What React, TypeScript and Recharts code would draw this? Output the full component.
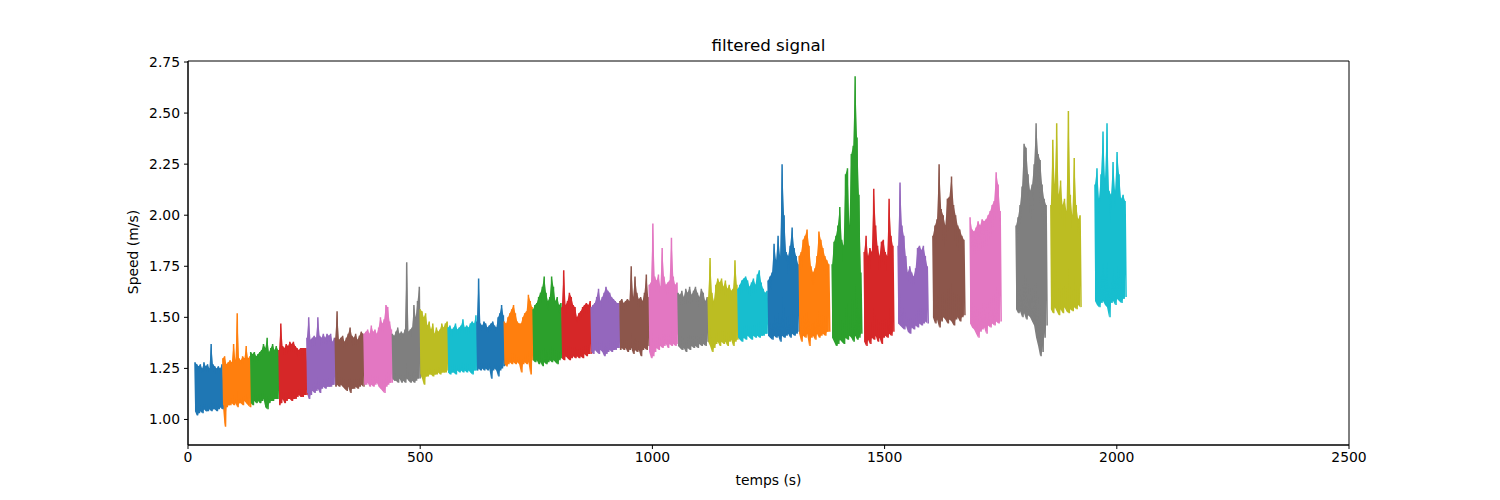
import React from 'react';
import { ComposedChart, Line, Area, XAxis, YAxis, ReferenceArea } from 'recharts';

const COLORS = ['#1f77b4', '#ff7f0e', '#2ca02c', '#d62728', '#9467bd', '#8c564b', '#e377c2', '#7f7f7f', '#bcbd22', '#17becf'];

const xTicks = [0, 500, 1000, 1500, 2000, 2500];
const yTicks = [1.0, 1.25, 1.5, 1.75, 2.0, 2.25, 2.5, 2.75];

const segStart = [15, 75, 135, 196, 256, 317, 379, 440, 500, 560, 622, 681, 743, 805, 868, 930, 993, 1055, 1120, 1184, 1249, 1316, 1387, 1456, 1529, 1604, 1684, 1783, 1858, 1953];
const segEnd = [75, 135, 196, 256, 317, 379, 440, 500, 560, 622, 681, 743, 805, 868, 930, 993, 1055, 1120, 1184, 1249, 1316, 1382, 1451, 1520, 1594, 1673, 1751, 1850, 1923, 2020];

const segHigh = [
  [1.28, 1.27, 1.26, 1.27, 1.25, 1.28, 1.26, 1.27, 1.25, 1.37, 1.27, 1.26, 1.25, 1.26, 1.25, 1.27],
  [1.30, 1.31, 1.27, 1.28, 1.29, 1.28, 1.37, 1.29, 1.52, 1.30, 1.29, 1.31, 1.30, 1.36, 1.30, 1.31],
  [1.33, 1.32, 1.33, 1.31, 1.32, 1.33, 1.34, 1.37, 1.35, 1.40, 1.33, 1.35, 1.37, 1.34, 1.36, 1.34],
  [1.34, 1.47, 1.36, 1.35, 1.37, 1.36, 1.38, 1.37, 1.38, 1.36, 1.35, 1.34, 1.35, 1.35, 1.35, 1.35],
  [1.40, 1.50, 1.39, 1.40, 1.41, 1.40, 1.50, 1.41, 1.40, 1.42, 1.40, 1.42, 1.41, 1.42, 1.38, 1.40],
  [1.40, 1.53, 1.39, 1.40, 1.41, 1.38, 1.40, 1.42, 1.45, 1.41, 1.40, 1.42, 1.39, 1.41, 1.43, 1.42],
  [1.42, 1.43, 1.44, 1.42, 1.46, 1.43, 1.44, 1.42, 1.45, 1.50, 1.47, 1.49, 1.56, 1.55, 1.48, 1.44],
  [1.42, 1.41, 1.43, 1.45, 1.42, 1.43, 1.42, 1.44, 1.77, 1.43, 1.44, 1.45, 1.56, 1.50, 1.58, 1.65],
  [1.54, 1.53, 1.50, 1.52, 1.46, 1.48, 1.44, 1.47, 1.42, 1.45, 1.43, 1.44, 1.47, 1.45, 1.47, 1.48],
  [1.45, 1.46, 1.44, 1.45, 1.47, 1.44, 1.45, 1.46, 1.49, 1.45, 1.46, 1.45, 1.47, 1.48, 1.47, 1.51],
  [1.48, 1.69, 1.47, 1.46, 1.48, 1.47, 1.45, 1.46, 1.47, 1.48, 1.46, 1.45, 1.50, 1.52, 1.56, 1.51],
  [1.48, 1.47, 1.50, 1.52, 1.54, 1.56, 1.52, 1.48, 1.47, 1.47, 1.50, 1.52, 1.53, 1.61, 1.58, 1.55],
  [1.54, 1.56, 1.57, 1.60, 1.62, 1.65, 1.70, 1.62, 1.58, 1.60, 1.70, 1.65, 1.58, 1.60, 1.56, 1.57],
  [1.55, 1.73, 1.56, 1.58, 1.62, 1.60, 1.56, 1.55, 1.50, 1.52, 1.53, 1.55, 1.56, 1.57, 1.56, 1.58],
  [1.55, 1.56, 1.57, 1.60, 1.64, 1.58, 1.60, 1.62, 1.65, 1.63, 1.62, 1.60, 1.59, 1.58, 1.57, 1.57],
  [1.58, 1.59, 1.57, 1.58, 1.59, 1.58, 1.75, 1.60, 1.70, 1.62, 1.59, 1.60, 1.58, 1.62, 1.71, 1.60],
  [1.66, 1.67, 1.96, 1.70, 1.68, 1.71, 1.65, 1.84, 1.70, 1.66, 1.67, 1.68, 1.89, 1.70, 1.66, 1.67],
  [1.62, 1.61, 1.63, 1.60, 1.64, 1.62, 1.65, 1.61, 1.63, 1.65, 1.62, 1.60, 1.64, 1.62, 1.58, 1.60],
  [1.60, 1.79, 1.62, 1.58, 1.66, 1.69, 1.67, 1.69, 1.65, 1.68, 1.64, 1.66, 1.63, 1.64, 1.78, 1.66],
  [1.64, 1.66, 1.68, 1.69, 1.70, 1.68, 1.65, 1.67, 1.69, 1.66, 1.71, 1.73, 1.67, 1.64, 1.62, 1.63],
  [1.68, 1.70, 1.72, 1.86, 1.78, 1.90, 1.80, 2.25, 2.00, 1.82, 1.80, 1.85, 1.94, 1.84, 1.80, 1.76],
  [1.80, 1.82, 1.88, 1.90, 1.93, 1.85, 1.75, 1.72, 1.74, 1.80, 1.92, 1.88, 1.84, 1.80, 1.78, 1.76],
  [1.76, 1.87, 1.90, 1.95, 2.04, 1.88, 1.85, 2.20, 2.23, 1.95, 2.30, 2.34, 2.68, 2.38, 2.10, 1.72],
  [1.82, 1.90, 1.80, 1.84, 1.82, 2.13, 1.95, 1.85, 1.80, 1.87, 1.88, 1.82, 1.80, 2.08, 1.90, 1.85],
  [1.85, 2.16, 1.95, 1.90, 1.80, 1.72, 1.75, 1.72, 1.70, 1.74, 1.84, 1.85, 1.83, 1.85, 1.80, 1.75],
  [1.90, 1.95, 1.98, 2.25, 2.03, 2.00, 1.95, 2.08, 2.09, 2.19, 2.05, 2.00, 1.95, 1.93, 1.90, 1.88],
  [1.99, 1.93, 1.92, 1.94, 1.97, 1.95, 1.98, 1.97, 1.98, 2.00, 2.02, 2.05, 2.07, 2.21, 2.15, 2.02],
  [1.95, 1.99, 2.05, 2.14, 2.35, 2.33, 2.20, 2.12, 2.15, 2.25, 2.45, 2.30, 2.27, 2.15, 2.08, 2.05],
  [2.05, 2.37, 2.15, 2.45, 2.10, 2.17, 2.05, 2.08, 2.02, 2.51, 2.10, 2.00, 2.28, 2.05, 1.98, 2.00],
  [2.15, 2.23, 2.08, 2.20, 2.41, 2.18, 2.45, 2.12, 2.10, 2.26, 2.12, 2.31, 2.20, 2.08, 2.10, 2.07],
];

const segLow = [
  [1.04, 1.02, 1.03, 1.04, 1.03, 1.05, 1.04, 1.04, 1.05, 1.04, 1.05, 1.05, 1.04, 1.05, 1.06, 1.05],
  [1.07, 0.965, 1.06, 1.07, 1.07, 1.08, 1.07, 1.08, 1.06, 1.08, 1.08, 1.07, 1.09, 1.08, 1.07, 1.06],
  [1.08, 1.07, 1.09, 1.08, 1.09, 1.08, 1.09, 1.10, 1.06, 1.05, 1.08, 1.09, 1.09, 1.10, 1.10, 1.10],
  [1.07, 1.08, 1.10, 1.08, 1.09, 1.10, 1.10, 1.09, 1.10, 1.10, 1.11, 1.12, 1.11, 1.11, 1.12, 1.12],
  [1.13, 1.10, 1.12, 1.14, 1.13, 1.14, 1.15, 1.13, 1.15, 1.16, 1.15, 1.16, 1.16, 1.16, 1.17, 1.17],
  [1.16, 1.17, 1.16, 1.17, 1.16, 1.15, 1.14, 1.16, 1.13, 1.15, 1.15, 1.16, 1.15, 1.16, 1.17, 1.16],
  [1.17, 1.17, 1.18, 1.16, 1.17, 1.16, 1.17, 1.18, 1.16, 1.15, 1.14, 1.13, 1.16, 1.17, 1.18, 1.18],
  [1.20, 1.19, 1.19, 1.18, 1.20, 1.18, 1.19, 1.18, 1.20, 1.19, 1.18, 1.19, 1.18, 1.19, 1.20, 1.20],
  [1.22, 1.20, 1.17, 1.21, 1.21, 1.22, 1.22, 1.21, 1.22, 1.22, 1.23, 1.22, 1.23, 1.23, 1.23, 1.24],
  [1.23, 1.22, 1.23, 1.23, 1.22, 1.24, 1.23, 1.24, 1.23, 1.24, 1.23, 1.24, 1.23, 1.22, 1.24, 1.24],
  [1.24, 1.25, 1.24, 1.25, 1.24, 1.25, 1.24, 1.25, 1.20, 1.24, 1.25, 1.24, 1.21, 1.24, 1.25, 1.26],
  [1.27, 1.26, 1.27, 1.28, 1.27, 1.28, 1.27, 1.28, 1.27, 1.23, 1.27, 1.28, 1.27, 1.28, 1.22, 1.29],
  [1.29, 1.28, 1.29, 1.27, 1.28, 1.26, 1.28, 1.27, 1.28, 1.29, 1.28, 1.29, 1.28, 1.27, 1.29, 1.30],
  [1.30, 1.29, 1.31, 1.30, 1.29, 1.30, 1.31, 1.30, 1.31, 1.30, 1.31, 1.30, 1.32, 1.31, 1.32, 1.32],
  [1.33, 1.32, 1.34, 1.33, 1.32, 1.34, 1.33, 1.31, 1.32, 1.33, 1.34, 1.33, 1.34, 1.34, 1.35, 1.35],
  [1.34, 1.35, 1.34, 1.35, 1.33, 1.34, 1.35, 1.32, 1.34, 1.33, 1.34, 1.31, 1.34, 1.35, 1.34, 1.36],
  [1.33, 1.30, 1.31, 1.33, 1.35, 1.34, 1.36, 1.35, 1.36, 1.37, 1.35, 1.37, 1.36, 1.37, 1.36, 1.37],
  [1.36, 1.35, 1.34, 1.35, 1.33, 1.35, 1.34, 1.36, 1.35, 1.36, 1.35, 1.37, 1.36, 1.37, 1.36, 1.38],
  [1.38, 1.36, 1.33, 1.35, 1.37, 1.38, 1.36, 1.38, 1.37, 1.38, 1.36, 1.38, 1.39, 1.36, 1.38, 1.39],
  [1.40, 1.39, 1.38, 1.40, 1.39, 1.41, 1.40, 1.39, 1.41, 1.40, 1.41, 1.40, 1.41, 1.41, 1.42, 1.42],
  [1.41, 1.40, 1.39, 1.41, 1.40, 1.41, 1.38, 1.41, 1.40, 1.41, 1.42, 1.40, 1.42, 1.41, 1.42, 1.43],
  [1.42, 1.38, 1.41, 1.40, 1.42, 1.36, 1.40, 1.41, 1.39, 1.42, 1.40, 1.41, 1.42, 1.41, 1.43, 1.43],
  [1.40, 1.38, 1.36, 1.37, 1.39, 1.38, 1.37, 1.40, 1.39, 1.41, 1.40, 1.38, 1.41, 1.39, 1.40, 1.42],
  [1.38, 1.36, 1.39, 1.37, 1.40, 1.39, 1.41, 1.38, 1.40, 1.37, 1.40, 1.41, 1.40, 1.42, 1.41, 1.43],
  [1.47, 1.46, 1.45, 1.44, 1.46, 1.43, 1.42, 1.45, 1.44, 1.46, 1.45, 1.47, 1.46, 1.47, 1.48, 1.47],
  [1.50, 1.47, 1.49, 1.45, 1.48, 1.50, 1.49, 1.47, 1.49, 1.48, 1.46, 1.49, 1.50, 1.48, 1.50, 1.51],
  [1.47, 1.45, 1.44, 1.42, 1.40, 1.43, 1.44, 1.45, 1.42, 1.46, 1.45, 1.47, 1.46, 1.48, 1.47, 1.48],
  [1.54, 1.52, 1.53, 1.50, 1.52, 1.49, 1.51, 1.50, 1.48, 1.46, 1.40, 1.36, 1.31, 1.33, 1.40, 1.46],
  [1.54, 1.52, 1.55, 1.53, 1.51, 1.54, 1.52, 1.55, 1.53, 1.52, 1.54, 1.53, 1.55, 1.54, 1.56, 1.55],
  [1.58, 1.56, 1.55, 1.57, 1.58, 1.56, 1.55, 1.50, 1.57, 1.58, 1.56, 1.59, 1.58, 1.57, 1.59, 1.60],
];

// each recorded segment: alternating high / low readings spread across its time span
const segments = segStart.map((s, k) => {
  const e = segEnd[k];
  const vals = segHigh[k].flatMap((h, i) => [h, segLow[k][i]]);
  const n = vals.length;
  return vals.map((v, i) => ({ t: s + (i * (e - s)) / (n - 1), v }));
});

// filled band between the same readings (the dense signal looks solid)
const bands = segStart.map((s, k) => {
  const e = segEnd[k];
  const n = segHigh[k].length * 2;
  return segHigh[k].map((h, i) => ({ t: s + (2 * i * (e - s)) / (n - 1), r: [segLow[k][i], h] }));
});

const FONT = 'DejaVu Sans, sans-serif';
const tickStyle = { fill: '#000', fontSize: 13.9, fontFamily: FONT };

export default function App() {
  return (
    <div style={{ position: 'absolute', left: 0, top: 0, width: 1500, height: 500, background: '#fff', fontFamily: FONT }}>
      <div style={{ position: 'absolute', left: 0, width: 1537, top: 35, textAlign: 'center', fontSize: 16.7, color: '#000', lineHeight: '20px' }}>
        filtered signal
      </div>
      <div style={{ position: 'absolute', left: 0, width: 1537, top: 471, textAlign: 'center', fontSize: 13.9, color: '#000', lineHeight: '18px' }}>
        temps (s)
      </div>
      <div style={{ position: 'absolute', left: 133, top: 252, width: 0, height: 0 }}>
        <div style={{ position: 'absolute', left: -60, top: -9, width: 120, textAlign: 'center', fontSize: 13.9, color: '#000', lineHeight: '18px', transform: 'rotate(-90deg)' }}>
          Speed (m/s)
        </div>
      </div>
      <ComposedChart width={1500} height={500} margin={{ top: 61, right: 151, bottom: 25, left: 128 }}>
        <XAxis
          dataKey="t"
          type="number"
          domain={[0, 2500]}
          ticks={xTicks}
          allowDataOverflow
          height={30}
          tickSize={4}
          tickMargin={3}
          tick={tickStyle}
          stroke="#000"
          tickLine={{ stroke: '#000' }}
          axisLine={{ stroke: '#000', strokeWidth: 1 }}
        />
        <YAxis
          type="number"
          domain={[0.875, 2.755]}
          ticks={yTicks}
          allowDataOverflow
          width={60}
          tickSize={4}
          tickMargin={4}
          tick={tickStyle}
          tickFormatter={(v: number) => v.toFixed(2)}
          stroke="#000"
          tickLine={{ stroke: '#000' }}
          axisLine={{ stroke: '#000', strokeWidth: 1 }}
        />
        {bands.map((d, k) => (
          <Area
            key={'a' + k}
            data={d}
            dataKey="r"
            type="linear"
            stroke="none"
            fill={COLORS[k % 10]}
            fillOpacity={1}
            dot={false}
            activeDot={false}
            isAnimationActive={false}
          />
        ))}
        {segments.map((d, k) => (
          <Line
            key={'l' + k}
            data={d}
            dataKey="v"
            type="linear"
            stroke={COLORS[k % 10]}
            strokeWidth={1.5}
            dot={false}
            activeDot={false}
            isAnimationActive={false}
          />
        ))}
        <ReferenceArea x1={0} x2={2500} y1={0.875} y2={2.755} fill="none" fillOpacity={0} stroke="#000" strokeWidth={1} ifOverflow="visible" />
      </ComposedChart>
    </div>
  );
}
